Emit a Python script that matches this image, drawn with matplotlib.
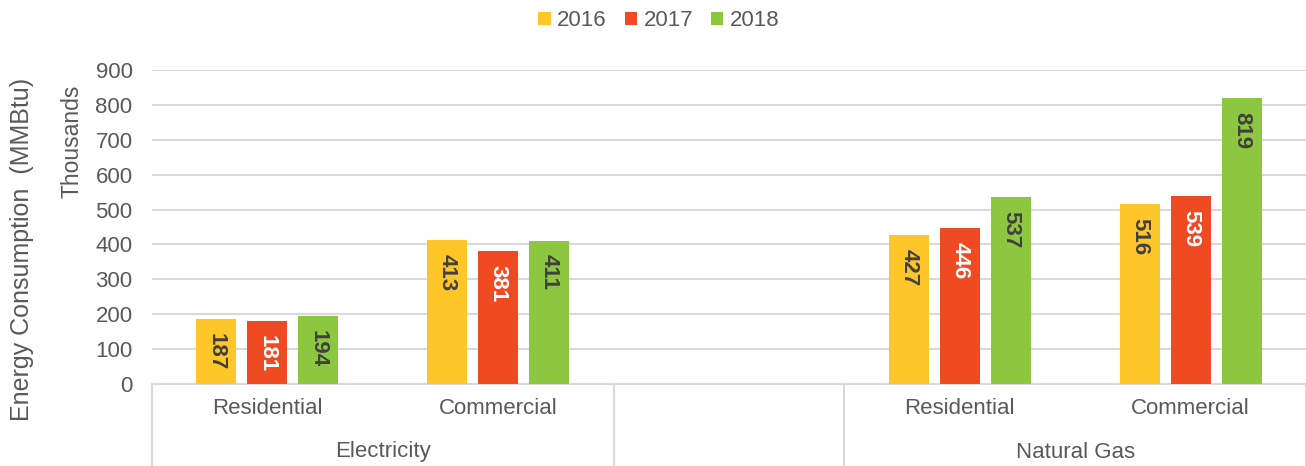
import matplotlib.pyplot as plt
import numpy as np

plt.rcParams['font.family'] = ['Liberation Sans', 'DejaVu Sans']

# Data (thousands of MMBtu)
sectors = ['Residential', 'Commercial', '', 'Residential', 'Commercial']
groups = ['Electricity', 'Natural Gas']
years = ['2016', '2017', '2018']
v2016 = [187, 413, np.nan, 427, 516]
v2017 = [181, 381, np.nan, 446, 539]
v2018 = [194, 411, np.nan, 537, 819]

colors = ['#FFC629', '#F04A23', '#8DC63F']
label_colors = ['#404040', 'white', '#404040']
grey = '#595959'
line_grey = '#D9D9D9'

W, H = 1306, 466
fig = plt.figure(figsize=(W / 100, H / 100), dpi=100)
ax = fig.add_axes([152 / W, (H - 384) / H, (W - 152) / W, 314 / H])

x = np.arange(len(sectors))
width = 40 / 231
step = 51 / 231
series = [v2016, v2017, v2018]
for i, (vals, c) in enumerate(zip(series, colors)):
    ax.bar(x + (i - 1) * step, vals, width, color=c, label=years[i], zorder=3)
    for xi, v in zip(x + (i - 1) * step, vals):
        if np.isnan(v):
            continue
        ax.annotate(f'{v:.0f}', (xi, v), xytext=(0, -10), textcoords='offset points',
                    rotation=270, ha='center', va='top', fontsize=16,
                    fontweight='bold', color=label_colors[i], zorder=4)

ax.set_xlim(-0.5, 4.5)
ax.set_ylim(0, 900)
ax.set_yticks(np.arange(0, 901, 100))
ax.yaxis.grid(True, color=line_grey, linewidth=1.5, zorder=0)
ax.set_axisbelow(True)
for s in ['top', 'right', 'left']:
    ax.spines[s].set_visible(False)
ax.spines['bottom'].set_color(line_grey)
ax.spines['bottom'].set_linewidth(1.5)
ax.tick_params(axis='y', length=0, labelsize=16, labelcolor=grey, pad=14)

ax.set_xticks([0, 1, 3, 4])
ax.set_xticklabels([sectors[i] for i in [0, 1, 3, 4]])
ax.tick_params(axis='x', length=0, labelsize=16, labelcolor=grey, pad=10)

# group separators and group labels
trans = ax.get_xaxis_transform()
for xs in [-0.5, 1.5, 2.5, 4.5]:
    ax.plot([xs, xs], [0, -82 / 314], transform=trans, color=line_grey,
            linewidth=1.5, clip_on=False)
for xg, g in zip([0.5, 3.5], groups):
    ax.text(xg, -68 / 314, g, transform=trans, ha='center', va='center',
            fontsize=16, color=grey)

fig.text(22 / W, 1 - 249 / H, 'Energy Consumption  (MMBtu)', rotation=90,
         ha='center', va='center', fontsize=18, color=grey)
fig.text(72 / W, 1 - 141 / H, 'Thousands', rotation=90,
         ha='center', va='center', fontsize=16.5, color=grey)

fig.legend(loc='center', bbox_to_anchor=(659 / W, 1 - 21 / H), ncol=3, frameon=False,
           fontsize=16, labelcolor=grey, handlelength=0.55, handleheight=0.55,
           handletextpad=0.3, columnspacing=0.8, borderpad=0)

fig.savefig('out.png', dpi=100)
